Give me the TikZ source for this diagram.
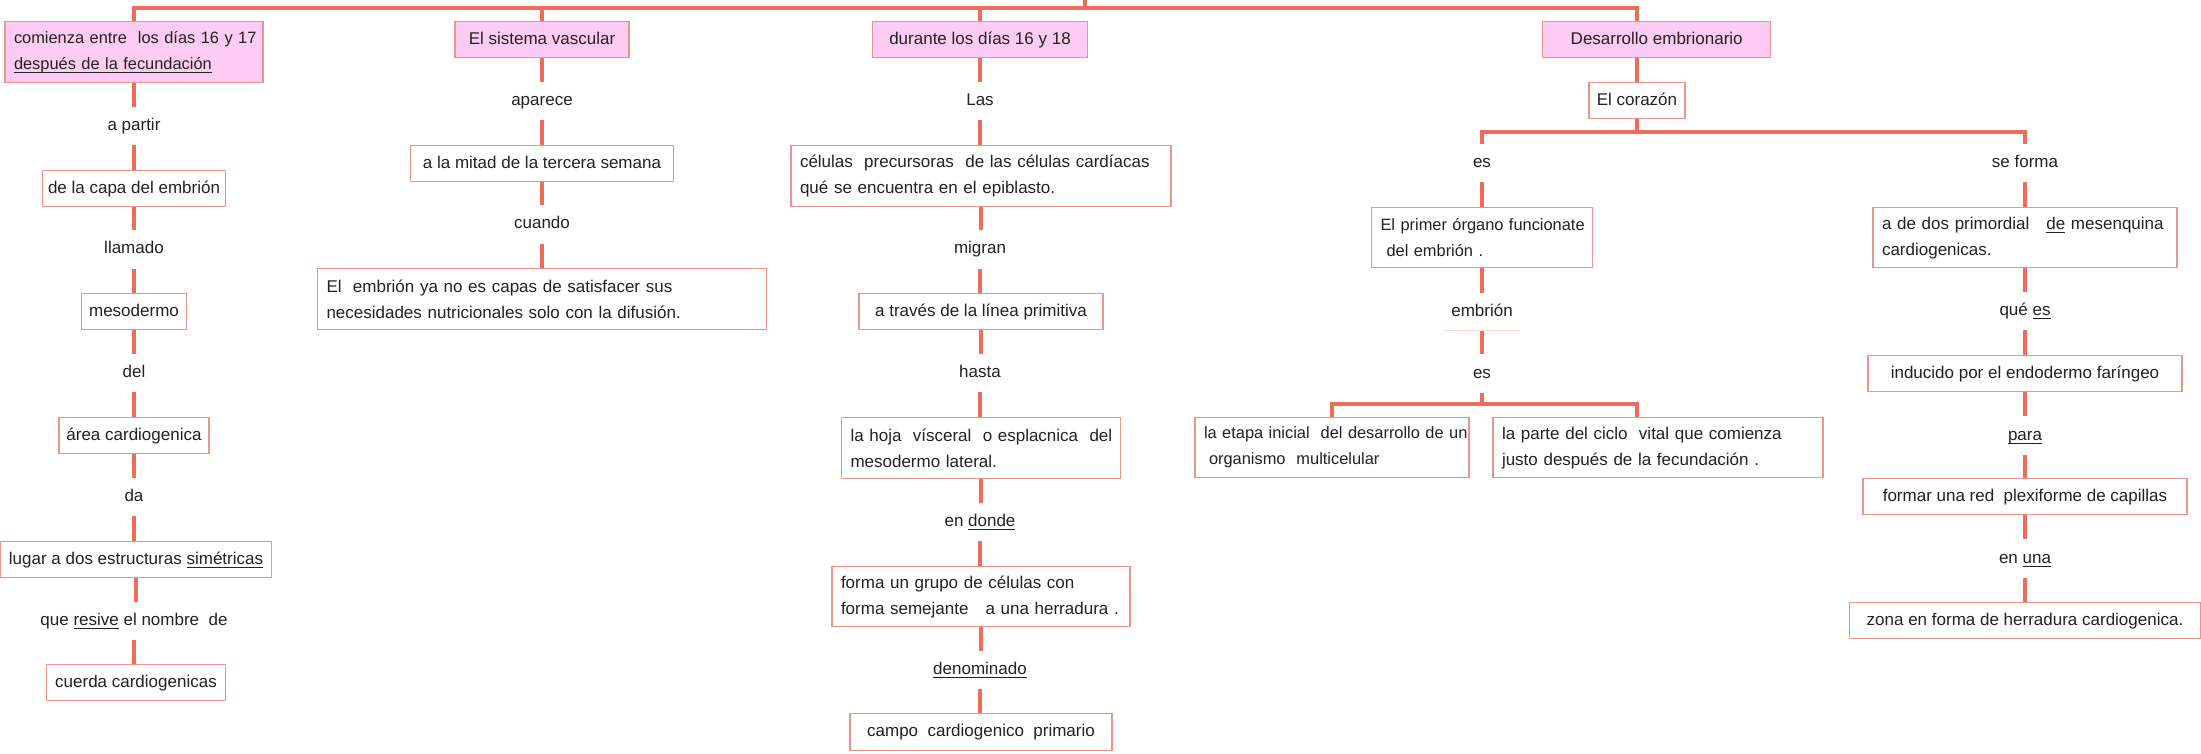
\documentclass[tikz,border=0pt]{standalone}
\usepackage{fontspec}
\setmainfont{Liberation Sans}
\usetikzlibrary{calc}
\definecolor{conn}{HTML}{EF6C5A}
\definecolor{bord}{HTML}{E8968C}
\definecolor{pinkf}{HTML}{FDCBF3}
\definecolor{txt}{HTML}{222222}
\definecolor{faint}{HTML}{F6D8D3}
\newcommand\ulx[1]{\setbox0=\hbox{#1}\rlap{\rule[-3.5pt]{\wd0}{0.9pt}}\box0\relax}
\begin{document}
\begin{tikzpicture}[x=1pt,y=-1pt,
  every node/.style={font=\fontsize{17}{26}\selectfont, text=txt},
  small/.style={font=\fontsize{16.4}{26}\selectfont},
  line/.style={draw=conn, line width=4.5pt},
  sbox/.style={draw=bord, line width=1.4pt, fill=white, inner sep=0pt, anchor=north, text height=13pt, text depth=4pt},
  mbox/.style={draw=bord, line width=1.4pt, fill=white, inner xsep=9pt, inner ysep=0pt, anchor=north, align=left},
  rootbox/.style={fill=pinkf},
  lbl/.style={inner sep=0pt, minimum height=38pt, text height=13pt, text depth=4pt},
]
\useasboundingbox (0,0) rectangle (2201,754);

% ---------- column 1 ----------
\node[mbox,rootbox,small,text width=240pt,minimum height=61pt] (r1) at (134,21)
  {\mbox{comienza entre\ \ los días 16 y 17}\\\mbox{\ulx{después de la fecundación}}};
\node[lbl] (l1a) at (134,126) {a partir};
\node[sbox,minimum width=183pt,minimum height=36pt] (b1a) at (134,170) {de la capa del embrión};
\node[lbl] (l1b) at (134,249.5) {llamado};
\node[sbox,minimum width=105pt,minimum height=36pt] (b1b) at (134,293) {mesodermo};
\node[lbl] (l1c) at (134,373) {del};
\node[sbox,minimum width=150pt,minimum height=36pt] (b1c) at (134,417) {área cardiogenica};
\node[lbl] (l1d) at (134,497) {da};
\node[sbox,minimum width=271pt,minimum height=36pt] (b1d) at (136,541) {lugar a dos estructuras \ulx{simétricas}\ };
\node[lbl] (l1e) at (134,621) {que \ulx{resive} el nombre\ \ de};
\node[sbox,minimum width=179pt,minimum height=36pt] (b1e) at (136,664) {cuerda cardiogenicas};

% ---------- column 2 ----------
\node[sbox,rootbox,minimum width=174pt,minimum height=36pt] (r2) at (542,21) {El sistema vascular};
\node[lbl] (l2a) at (542,101) {aparece};
\node[sbox,minimum width=263pt,minimum height=36pt] (b2a) at (542,145) {a la mitad de la tercera semana};
\node[lbl] (l2b) at (542,224.5) {cuando};
\node[mbox,text width=431pt,minimum height=61pt] (b2b) at (542,268)
  {\mbox{El\ \ embrión ya no es capas de satisfacer sus}\\\mbox{necesidades nutricionales solo con la difusión.}};

% ---------- column 3 ----------
\node[sbox,rootbox,minimum width=215pt,minimum height=36pt] (r3) at (980,21) {durante los días 16 y 18\ };
\node[lbl] (l3a) at (980,101) {Las};
\node[mbox,text width=362pt,minimum height=61pt] (b3a) at (981,145)
  {\mbox{células\ \ precursoras\ \ de las células cardíacas}\\\mbox{qué se encuentra en el epiblasto.}};
\node[lbl] (l3b) at (980,249.5) {migran};
\node[sbox,minimum width=244pt,minimum height=36pt] (b3b) at (981,293) {a través de la línea primitiva\ };
\node[lbl] (l3c) at (980,373) {hasta};
\node[mbox,text width=261pt,minimum height=61pt] (b3c) at (981,417)
  {\mbox{la hoja\ \ vísceral\ \ o esplacnica\ \ del}\\\mbox{mesodermo lateral.}};
\node[lbl] (l3d) at (980,522) {en \ulx{donde}};
\node[mbox,text width=280pt,minimum height=60pt] (b3d) at (981,566)
  {\mbox{forma un grupo de células con}\\\mbox{forma semejante\ \ \ a una herradura .}};
\node[lbl] (l3e) at (980,670) {\ulx{denominado}};
\node[sbox,minimum width=262pt,minimum height=37pt] (b3e) at (981,713) {campo\ \ cardiogenico\ \ primario};

% ---------- column 4 ----------
\coordinate (c4) at (1637,0);
\node[sbox,rootbox,minimum width=228pt,minimum height=36pt,anchor=north west] (r4) at (1542,21) {Desarrollo embrionario};
\node[sbox,minimum width=96pt,minimum height=36pt] (b4a) at (1637,82) {El corazón};
\node[lbl] (l4a) at (1482,163) {es};
\node[lbl] (l5a) at (2025,163) {se forma};
\node[mbox,small,text width=203pt,minimum height=60pt] (b4b) at (1482,207)
  {\mbox{El primer órgano funcionate}\\\mbox{\hspace*{6pt}del embrión .}};
\node[lbl,minimum height=37pt] (l4b) at (1482,311.5) {embrión};
\node[lbl] (l4c) at (1482,373.5) {es};
\node[mbox,small,text width=256pt,minimum height=60pt] (b4c) at (1332,417)
  {\mbox{la etapa inicial\ \ del desarrollo de un}\\\mbox{\hspace*{5pt}organismo\ \ multicelular}};
\node[mbox,text width=312pt,minimum height=60pt] (b4d) at (1658,417)
  {\mbox{la parte del ciclo\ \ vital que comienza}\\\mbox{justo después de la fecundación .}};

% ---------- column 5 ----------
\node[mbox,text width=286pt,minimum height=60pt] (b5a) at (2025,207)
  {\mbox{a de dos primordial\ \ \ \ulx{de} mesenquina}\\\mbox{cardiogenicas.}};
\node[lbl] (l5b) at (2025,311) {qué \ulx{es}};
\node[sbox,minimum width=314pt,minimum height=36pt] (b5b) at (2025,355) {inducido por el endodermo faríngeo\ };
\node[lbl] (l5c) at (2025,435.5) {\ulx{para}};
\node[sbox,minimum width=324pt,minimum height=36pt] (b5c) at (2025,478) {formar una red\ \ plexiforme de capillas\ };
\node[lbl] (l5d) at (2025,558.5) {en \ulx{una}};
\node[sbox,minimum width=351pt,minimum height=36pt] (b5d) at (2025,602) {zona en forma de herradura cardiogenica.};

% ---------- connectors ----------
\coordinate (root) at (1085,0);
\coordinate (hub) at (1085,8);
\coordinate (r4top) at (r4.north -| c4);
\draw[line] (root) -- (hub);
\draw[line] (r1.north) -- (r1.north |- hub) -- (r4top |- hub) -- (r4top);
\draw[line] (r2.north) -- (r2.north |- hub);
\draw[line] (r3.north) -- (r3.north |- hub);

\foreach \a/\b in {r1/l1a, l1a/b1a, b1a/l1b, l1b/b1b, b1b/l1c, l1c/b1c, b1c/l1d, l1d/b1d, b1d/l1e, l1e/b1e,
                   r2/l2a, l2a/b2a, b2a/l2b, l2b/b2b,
                   r3/l3a, l3a/b3a, b3a/l3b, l3b/b3b, b3b/l3c, l3c/b3c, b3c/l3d, l3d/b3d, b3d/l3e, l3e/b3e,
                   l4a/b4b, b4b/l4b, l4b/l4c,
                   l5a/b5a, b5a/l5b, l5b/b5b, b5b/l5c, l5c/b5c, b5c/l5d, l5d/b5d}
  \draw[line] (\a.south) -- (\a.south |- \b.north);

\draw[line] (r4.south -| c4) -- (b4a.north);
\coordinate (y1) at (0,132);
\draw[line] (b4a.south) -- (b4a.south |- y1);
\draw[line] (l4a.north) -- (l4a.north |- y1) -- (l5a.north |- y1) -- (l5a.north);

\coordinate (y2) at (0,404);
\coordinate (b4dtop) at (b4d.north -| c4);
\draw[line] (l4c.south) -- (l4c.south |- y2);
\draw[line] (b4c.north) -- (b4c.north |- y2) -- (b4dtop |- y2) -- (b4dtop);

\draw[draw=faint, line width=1pt] ([xshift=-38pt]l4b.south) -- ([xshift=38pt]l4b.south);
\end{tikzpicture}
\end{document}
